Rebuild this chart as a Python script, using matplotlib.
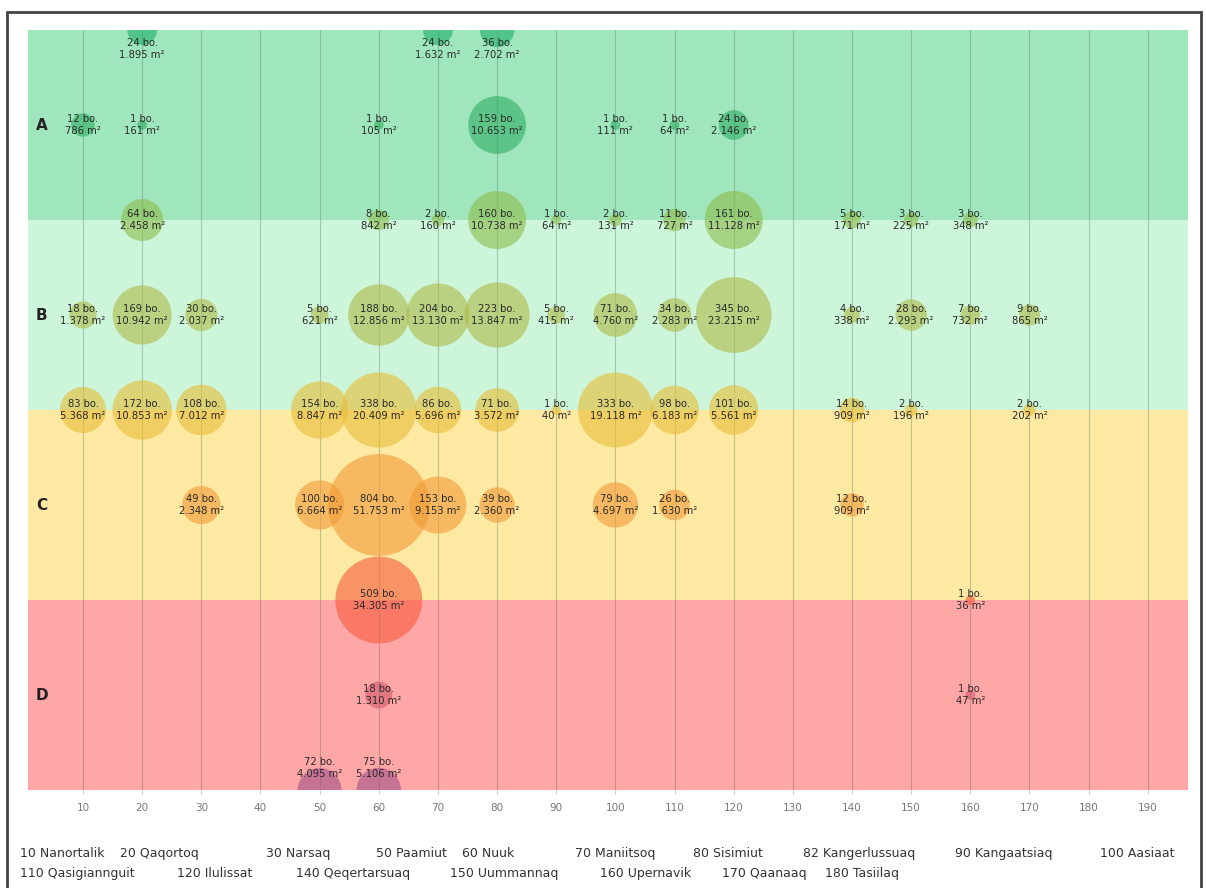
import matplotlib
matplotlib.use("Agg")
import matplotlib.pyplot as plt
from matplotlib.patches import Rectangle

# ---------------- data ----------------
# rows: grade level (8 = top edge of A ... 0 = bottom edge of D)
row8_x = [20, 70, 80]
row8_bo = [24, 24, 36]
row8_m2 = ["1.895", "1.632", "2.702"]

row7_x = [10, 20, 60, 80, 100, 110, 120]
row7_bo = [12, 1, 1, 159, 1, 1, 24]
row7_m2 = ["786", "161", "105", "10.653", "111", "64", "2.146"]

row6_x = [20, 60, 70, 80, 90, 100, 110, 120, 140, 150, 160]
row6_bo = [64, 8, 2, 160, 1, 2, 11, 161, 5, 3, 3]
row6_m2 = ["2.458", "842", "160", "10.738", "64", "131", "727", "11.128", "171", "225", "348"]

row5_x = [10, 20, 30, 50, 60, 70, 80, 90, 100, 110, 120, 140, 150, 160, 170]
row5_bo = [18, 169, 30, 5, 188, 204, 223, 5, 71, 34, 345, 4, 28, 7, 9]
row5_m2 = ["1.378", "10.942", "2.037", "621", "12.856", "13.130", "13.847", "415",
           "4.760", "2.283", "23.215", "338", "2.293", "732", "865"]

row4_x = [10, 20, 30, 50, 60, 70, 80, 90, 100, 110, 120, 140, 150, 170]
row4_bo = [83, 172, 108, 154, 338, 86, 71, 1, 333, 98, 101, 14, 2, 2]
row4_m2 = ["5.368", "10.853", "7.012", "8.847", "20.409", "5.696", "3.572", "40",
           "19.118", "6.183", "5.561", "909", "196", "202"]

row3_x = [30, 50, 60, 70, 80, 100, 110, 140]
row3_bo = [49, 100, 804, 153, 39, 79, 26, 12]
row3_m2 = ["2.348", "6.664", "51.753", "9.153", "2.360", "4.697", "1.630", "909"]

row2_x = [60, 160]
row2_bo = [509, 1]
row2_m2 = ["34.305", "36"]

row1_x = [60, 160]
row1_bo = [18, 1]
row1_m2 = ["1.310", "47"]

row0_x = [50, 60]
row0_bo = [72, 75]
row0_m2 = ["4.095", "5.106"]

grade_labels = ["A", "B", "C", "D"]
grade_label_y = [7, 5, 3, 1]
x_ticks = list(range(10, 200, 10))

legend_line1 = ["10 Nanortalik", "20 Qaqortoq", "30 Narsaq", "50 Paamiut", "60 Nuuk",
                "70 Maniitsoq", "80 Sisimiut", "82 Kangerlussuaq", "90 Kangaatsiaq", "100 Aasiaat"]
legend_line2 = ["110 Qasigiannguit", "120 Ilulissat", "140 Qeqertarsuaq", "150 Uummannaq",
                "160 Upernavik", "170 Qaanaaq", "180 Tasiilaq"]

# ---------------- style ----------------
W, H, DPI = 1206, 888, 100
fig = plt.figure(figsize=(W / DPI, H / DPI), dpi=DPI)
fig.patch.set_facecolor("white")

ax_l, ax_r, ax_t, ax_b = 28, 1188, 30, 790
ax = fig.add_axes([ax_l / W, 1 - ax_b / H, (ax_r - ax_l) / W, (ax_b - ax_t) / H])
ax.set_xlim(0.7, 196.8)
ax.set_ylim(0, 8)

band_colors = ["#ffa6a6", "#fee9a3", "#ccf5d9", "#a0e6bc"]  # D, C, B, A
for i, c in enumerate(band_colors):
    ax.axhspan(2 * i, 2 * i + 2, color=c, zorder=0, lw=0)

for xt in x_ticks:
    ax.axvline(xt, color="#406050", alpha=0.3, lw=0.8, zorder=1)

rows = [
    (8, row8_x, row8_bo, row8_m2, "#1fae6a"),
    (7, row7_x, row7_bo, row7_m2, "#2fae62"),
    (6, row6_x, row6_bo, row6_m2, "#8cbb4a"),
    (5, row5_x, row5_bo, row5_m2, "#aeb948"),
    (4, row4_x, row4_bo, row4_m2, "#e8bd35"),
    (3, row3_x, row3_bo, row3_m2, "#f29a35"),
    (2, row2_x, row2_bo, row2_m2, "#f55a3c"),
    (1, row1_x, row1_bo, row1_m2, "#cf5a6e"),
    (0, row0_x, row0_bo, row0_m2, "#a0508a"),
]

for yv, xs, bos, m2s, col in rows:
    r_px = [4.9 * b ** 0.35 for b in bos]
    sizes = [(2 * r * 72 / DPI) ** 2 for r in r_px]
    sc = ax.scatter(xs, [yv] * len(xs), s=sizes, color=col, alpha=0.6, lw=0, zorder=2,
                    clip_on=True)
    sc.set_clip_box(ax.bbox)
    if yv == 8:
        off = -14
    elif yv == 0:
        off = 16
    else:
        off = 0
    for x, b, m in zip(xs, bos, m2s):
        ax.annotate(f"{b} bo.\n{m} m²", (x, yv), xytext=(0, off), textcoords="offset points",
                    ha="center", va="center", fontsize=7.2, color="#2a2a2a",
                    linespacing=1.25, zorder=3, annotation_clip=False)

for lab, yv in zip(grade_labels, grade_label_y):
    ax.text(3.0, yv, lab, ha="center", va="center", fontsize=11, fontweight="bold",
            color="#222222", zorder=3)

ax.set_xticks(x_ticks)
ax.set_xticklabels([str(t) for t in x_ticks], fontsize=7.5, color="#777777")
ax.tick_params(axis="x", length=3, color="#cccccc", pad=6)
ax.set_yticks([])
for s in ax.spines.values():
    s.set_visible(False)

# place-name legend
line1_px = [20, 120, 266, 376, 462, 575, 693, 803, 955, 1100]
line2_px = [20, 177, 296, 450, 600, 722, 825]
for txt, px in zip(legend_line1, line1_px):
    fig.text(px / W, 1 - 853 / H, txt, fontsize=9, color="#333333", va="center", ha="left")
for txt, px in zip(legend_line2, line2_px):
    fig.text(px / W, 1 - 873 / H, txt, fontsize=9, color="#333333", va="center", ha="left")

# outer frame
fig.patches.append(Rectangle((7 / W, -0.01), (1201 - 7) / W, (1 - 12 / H) + 0.01,
                             transform=fig.transFigure, fill=False, ec="#444444", lw=2))

fig.savefig("out.png", dpi=DPI)
